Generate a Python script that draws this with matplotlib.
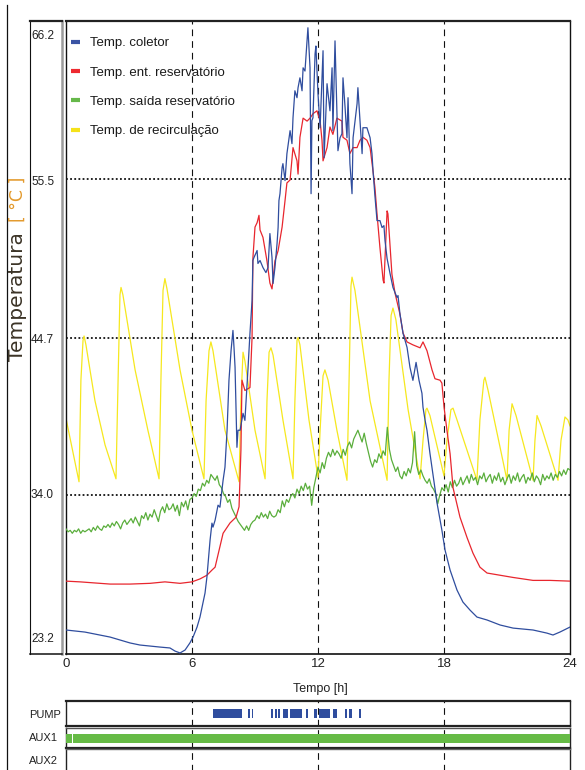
import numpy as np
import matplotlib
matplotlib.use("Agg")
import matplotlib.pyplot as plt
from matplotlib.lines import Line2D
from matplotlib.transforms import offset_copy

plt.rcParams['font.family'] = ['Liberation Sans Narrow', 'Liberation Sans', 'DejaVu Sans']

# ---------------- data ----------------
hour_ticks = [0, 6, 12, 18, 24]
temp_ticks = [23.2, 34.0, 44.7, 55.5, 66.2]
temp_tick_labels = ['23.2', '34.0', '44.7', '55.5', '66.2']
series_names = ['Temp. coletor', 'Temp. ent. reservatório',
                'Temp. saída reservatório', 'Temp. de recirculação']
row_names = ['PUMP', 'AUX1', 'AUX2']

# Temp. coletor (blue)
coletor_h = [0, 0.90, 1.62, 2.10, 2.57, 3.05, 3.52, 4.48, 4.95, 5.19,
             5.43, 5.67, 5.90, 6.05, 6.24, 6.38, 6.62, 6.71, 6.86, 6.95,
             7.00, 7.10, 7.24, 7.33, 7.48, 7.57, 7.67, 7.76, 7.86, 7.95,
             8.00, 8.05, 8.14, 8.19, 8.29, 8.43, 8.52, 8.67, 8.76, 8.86,
             8.90, 8.95, 9.10, 9.14, 9.24, 9.38, 9.52, 9.62, 9.71, 9.81,
             9.86, 9.95, 10.05, 10.10, 10.14, 10.19, 10.29, 10.33, 10.43, 10.52,
             10.67, 10.76, 10.81, 10.90, 11.00, 11.05, 11.14, 11.24, 11.29, 11.38,
             11.52, 11.62, 11.67, 11.71, 11.76, 11.86, 11.90, 12.00, 12.10, 12.24,
             12.29, 12.43, 12.57, 12.67, 12.71, 12.81, 12.90, 12.95, 13.05, 13.14,
             13.19, 13.29, 13.38, 13.43, 13.52, 13.62, 13.67, 13.86, 13.90, 14.00,
             14.10, 14.14, 14.33, 14.48, 14.57, 14.62, 14.71, 14.81, 14.95, 15.05,
             15.14, 15.19, 15.29, 15.43, 15.57, 15.76, 15.81, 15.90, 16.05, 16.24,
             16.38, 16.52, 16.67, 16.81, 16.95, 17.00, 17.10, 17.19, 17.33, 17.67,
             17.90, 18.05, 18.29, 18.62, 18.90, 19.24, 19.57, 20.05, 20.67, 21.29,
             22.24, 22.90, 23.19, 23.52, 24.00]
coletor_t = [24.83, 24.69, 24.49, 24.35, 24.15, 23.95, 23.81, 23.67, 23.61, 23.40,
             23.27, 23.47, 23.95, 24.35, 25.03, 25.71, 27.34, 28.42, 30.93, 32.09,
             31.82, 32.29, 33.31, 33.17, 35.00, 35.89, 38.40, 41.79, 43.82, 45.18,
             44.03, 42.67, 37.24, 38.40, 38.40, 39.55, 39.07, 42.67, 44.98, 47.22,
             49.93, 50.13, 50.61, 49.73, 49.93, 49.45, 49.11, 49.45, 51.76, 50.13,
             48.37, 49.45, 51.08, 52.17, 54.00, 54.47, 56.24, 56.51, 55.36, 57.19,
             58.75, 57.87, 59.63, 61.46, 60.99, 61.67, 62.34, 61.46, 63.02, 62.80,
             65.74, 63.02, 54.47, 59.43, 59.63, 63.97, 64.50, 61.26, 58.95, 64.18,
             56.92, 61.94, 60.10, 63.02, 58.75, 64.85, 60.10, 57.39, 58.27, 58.54,
             62.34, 60.31, 58.27, 60.99, 56.51, 54.47, 58.27, 60.58, 61.67, 59.43,
             57.19, 58.95, 58.95, 58.27, 57.19, 56.03, 54.34, 52.64, 52.64, 52.17,
             52.30, 51.29, 50.06, 49.05, 48.10, 47.42, 47.55, 46.33, 44.98, 44.03,
             42.67, 41.79, 43.01, 41.79, 40.91, 39.96, 39.07, 38.40, 36.84, 33.44,
             31.61, 30.26, 28.90, 27.54, 26.73, 26.18, 25.71, 25.51, 25.17, 24.96,
             24.83, 24.62, 24.49, 24.69, 25.03]

# Temp. ent. reservatório (red)
ent_h = [0, 0.67, 1.62, 2.10, 3.05, 4.00, 4.71, 5.43, 6.00, 6.38,
         6.71, 6.95, 7.10, 7.29, 7.48, 7.81, 8.10, 8.24, 8.33, 8.38,
         8.52, 8.76, 8.86, 8.90, 9.00, 9.10, 9.19, 9.24, 9.38, 9.57,
         9.71, 9.81, 9.95, 10.10, 10.29, 10.43, 10.52, 10.67, 10.81, 11.00,
         11.05, 11.14, 11.29, 11.48, 11.62, 11.76, 11.95, 12.10, 12.19, 12.24,
         12.43, 12.57, 12.71, 12.90, 13.14, 13.19, 13.38, 13.52, 13.67, 13.86,
         14.00, 14.14, 14.33, 14.48, 14.62, 14.71, 14.81, 14.95, 15.10, 15.14,
         15.29, 15.33, 15.52, 15.67, 15.90, 16.05, 16.24, 16.52, 16.86, 17.00,
         17.19, 17.43, 17.57, 17.81, 17.90, 18.00, 18.14, 18.29, 18.43, 18.76,
         19.10, 19.38, 19.71, 20.05, 20.67, 21.29, 22.24, 23.05, 24.00]
ent_t = [28.15, 28.10, 28.00, 27.95, 27.95, 28.00, 28.10, 28.00, 28.10, 28.30,
         28.55, 28.90, 29.10, 30.25, 31.40, 32.10, 32.50, 33.20, 37.05, 41.80,
         41.10, 41.30, 44.70, 50.10, 52.20, 52.50, 53.00, 52.00, 51.50, 49.90,
         48.40, 48.00, 49.90, 50.60, 52.20, 54.00, 55.20, 55.40, 57.60, 56.70,
         55.80, 58.30, 59.60, 59.40, 59.60, 59.90, 60.10, 59.40, 58.10, 56.70,
         57.60, 59.00, 58.50, 59.60, 59.40, 58.30, 58.10, 57.20, 57.60, 57.60,
         58.10, 58.30, 58.10, 57.60, 56.00, 54.90, 53.10, 50.80, 48.60, 48.40,
         53.30, 53.10, 49.00, 47.70, 46.30, 45.00, 44.40, 44.20, 44.00, 44.40,
         43.80, 42.50, 41.90, 41.80, 41.60, 40.00, 38.40, 36.80, 34.50, 32.50,
         31.10, 30.05, 29.10, 28.70, 28.55, 28.40, 28.20, 28.20, 28.15]

# Temp. saída reservatório (green), one reading every 0.1 h from 0 h to 24 h
saida_t = [31.7, 31.5, 31.6, 31.4, 31.6, 31.5, 31.7, 31.4, 31.6, 31.5,
           31.6, 31.7, 31.5, 31.8, 31.6, 31.9, 31.7, 31.6, 31.9, 31.8,
           32.0, 31.8, 32.1, 31.9, 32.2, 32.0, 31.7, 32.1, 32.3, 32.0,
           32.2, 32.4, 32.1, 32.5, 32.2, 31.9, 32.6, 32.4, 32.8, 32.3,
           32.7, 32.5, 33.0, 32.6, 32.2, 32.9, 33.2, 32.8, 33.4, 33.0,
           33.1, 33.4, 32.9, 33.3, 32.6, 33.5, 33.2, 33.6, 33.0, 33.7,
           33.8, 34.1, 33.9, 34.4, 34.3, 34.8, 34.6, 35.0, 34.8, 35.4,
           35.2, 35.0, 35.3, 34.7, 34.5, 34.1, 33.9, 33.5, 33.7, 33.1,
           32.8, 32.5, 32.2, 32.0, 31.8, 31.6, 31.9, 31.6, 32.0, 32.2,
           32.3, 32.6, 32.4, 32.8, 32.5, 32.7, 32.4, 32.9, 32.6, 32.5,
           32.6, 33.0, 32.8, 33.6, 33.2, 33.7, 33.5, 33.9, 34.1, 33.8,
           34.4, 34.1, 34.6, 34.3, 34.8, 34.4, 34.6, 33.3, 34.5, 35.2,
           35.9, 35.5, 36.2, 35.8, 36.5, 36.9, 36.6, 37.1, 36.7, 37.0,
           36.8, 36.5, 37.1, 36.7, 37.3, 37.6, 37.2, 37.8, 38.1, 38.4,
           38.0, 37.6, 38.2, 37.5, 36.9, 36.3, 35.9, 36.4, 36.2, 36.8,
           36.5, 37.0, 36.7, 38.6, 37.1, 36.4, 36.0, 35.6, 35.9, 35.3,
           35.1, 35.6, 35.3, 35.8, 35.5, 36.2, 38.3, 36.0, 35.4, 35.7,
           35.3, 35.0, 34.8, 35.1, 34.6, 34.4, 34.1, 33.4, 34.0, 34.5,
           34.3, 34.7, 34.2, 34.9, 34.5, 35.0, 34.6, 34.8, 35.2, 34.7,
           35.0, 35.3, 34.8, 35.4, 35.0, 35.2, 34.7, 35.3, 35.1, 35.5,
           34.9, 35.2, 35.4, 34.8, 35.3, 35.0, 35.5, 34.9, 35.2, 34.7,
           35.1, 35.4, 34.8, 35.3, 35.0, 35.5, 34.9, 35.2, 35.4, 34.8,
           35.2, 35.0, 35.5, 34.9, 35.3, 35.1, 34.7, 35.4, 35.0, 35.3,
           35.1, 35.5, 35.0, 35.4, 35.2, 35.6, 35.3, 35.7, 35.4, 35.8,
           35.7]
saida_h = np.linspace(0, 24, len(saida_t))

# Temp. de recirculação (yellow)
recirc_h = [0, 0.62, 0.71, 0.81, 0.86, 0.95, 1.38, 1.86,
            2.38, 2.48, 2.57, 2.62, 2.71, 3.29, 3.90,
            4.43, 4.52, 4.62, 4.71, 4.81, 5.43, 6.00,
            6.57, 6.67, 6.81, 6.90, 7.00, 7.57,
            8.24, 8.33, 8.43, 8.52, 9.00,
            9.48, 9.57, 9.67, 9.76, 9.86, 10.33,
            10.81, 10.90, 11.00, 11.05, 11.14, 11.57,
            12.00, 12.10, 12.24, 12.33, 12.48, 12.90,
            13.38, 13.48, 13.57, 13.62, 13.76, 14.48,
            15.29, 15.38, 15.48, 15.57, 15.71, 16.29,
            16.86, 17.00, 17.14, 17.19, 17.33,
            18.00, 18.14, 18.33, 18.43, 18.62,
            19.57, 19.71, 19.90, 19.95, 20.10,
            21.00, 21.10, 21.24, 21.43,
            22.24, 22.33, 22.43, 22.62,
            23.43, 23.57, 23.76, 23.90, 24.00]
recirc_t = [39.2, 34.9, 41.8, 44.5, 44.8, 44.2, 40.4, 37.4,
            35.1, 41.8, 47.6, 48.1, 47.6, 42.5, 38.4,
            35.1, 41.8, 47.9, 48.7, 48.0, 42.5, 38.4,
            35.1, 40.4, 43.8, 44.4, 43.8, 38.4,
            34.9, 40.4, 43.7, 43.1, 38.4,
            35.1, 40.4, 43.7, 44.0, 43.5, 39.1,
            35.1, 40.4, 44.5, 44.7, 44.2, 39.1,
            35.2, 38.4, 42.1, 42.5, 41.8, 38.4,
            35.0, 41.8, 48.2, 48.8, 47.9, 40.4,
            35.0, 41.8, 46.2, 46.7, 45.9, 39.8,
            35.1, 37.7, 39.8, 39.9, 39.4,
            35.3, 37.7, 39.8, 39.9, 39.1,
            35.0, 39.1, 41.8, 42.0, 41.1,
            35.0, 38.4, 40.2, 39.4,
            35.0, 37.7, 39.4, 38.7,
            35.0, 37.7, 39.3, 39.1, 38.7]

# PUMP on intervals (h)
pump_start = [7.01, 8.68, 8.84, 9.76, 9.95, 10.11, 10.35, 10.67, 11.41, 11.81,
              12.06, 12.70, 13.29, 13.49, 13.95]
pump_end = [8.37, 8.76, 8.92, 9.84, 10.03, 10.19, 10.56, 11.22, 11.54, 11.97,
            12.57, 12.89, 13.37, 13.60, 14.03]
# AUX1 on intervals (h)
aux1_start = [0.0, 0.35]
aux1_end = [0.27, 24.0]

# ---------------- styling ----------------
c_blue, c_red, c_green, c_yellow = '#2f4d9e', '#e8262e', '#5aae3c', '#f6e81e'
leg_colors = ['#3a54a4', '#ee2a30', '#66b84a', '#f5e21a']

W, H = 585, 770
fig = plt.figure(figsize=(W / 100, H / 100), dpi=100)


def fx(x):
    return x / W


def fy(y):
    return 1 - y / H


def box(x0, y0, x1, y1):
    return [fx(x0), fy(y1), (x1 - x0) / W, (y1 - y0) / H]


# outer left rule
fig.add_artist(Line2D([fx(7), fx(7)], [fy(5), fy(770)], transform=fig.transFigure,
                      color='#111', lw=0.9))

# tick label panel
pan = fig.add_axes(box(30, 21, 62, 654))
pan.set_xticks([])
pan.set_yticks([])
for s, (c, lw) in {'left': ('#111', 0.8), 'top': ('#222', 1.6),
                   'bottom': ('#111', 1.1), 'right': ('#9a9a9a', 1.8)}.items():
    pan.spines[s].set_color(c)
    pan.spines[s].set_linewidth(lw)

# main plot
ax = fig.add_axes(box(66, 21, 570, 654))
ax.set_xlim(0, 24)
ax.set_ylim(temp_ticks[0], temp_ticks[-1])

for v in temp_ticks[1:-1]:
    ax.axhline(v, color='#111', lw=1.3, ls=(0, (1.0, 1.3)), zorder=1)
for h in hour_ticks[1:-1]:
    ax.axvline(h, color='#111', lw=0.8, ls=(0, (6, 4.5)), zorder=1)

ax.plot(recirc_h, recirc_t, color=c_yellow, lw=0.9, zorder=2)
ax.plot(saida_h, saida_t, color=c_green, lw=0.9, zorder=3)
ax.plot(ent_h, ent_t, color=c_red, lw=0.9, zorder=4)
ax.plot(coletor_h, coletor_t, color=c_blue, lw=0.9, zorder=5)

for s, (c, lw) in {'left': ('#111', 1.0), 'top': ('#222', 1.6),
                   'bottom': ('#111', 1.2), 'right': ('#111', 1.0)}.items():
    ax.spines[s].set_color(c)
    ax.spines[s].set_linewidth(lw)

ax.set_xticks(hour_ticks, [str(h) for h in hour_ticks])
ax.tick_params(axis='x', length=0, pad=3, labelsize=9.5, labelcolor='#222')
ax.set_yticks([])

ytrans = ax.get_yaxis_transform()
label_offsets = [10.5, 0, -1.5, -2.5, -11]
for v, s, off in zip(temp_ticks, temp_tick_labels, label_offsets):
    ax.text((31 - 66) / 504, v, s,
            transform=offset_copy(ytrans, fig=fig, x=0, y=off, units='points'),
            ha='left', va='center', fontsize=8.5, color='#222', clip_on=False)

handles = [Line2D([], [], color=c, lw=3, solid_capstyle='butt') for c in leg_colors]
leg = ax.legend(handles, series_names, loc='upper left',
                bbox_to_anchor=(fx(71), fy(37)), bbox_transform=fig.transFigure,
                frameon=False, fontsize=9.5, handlelength=0.7, handletextpad=0.75,
                labelspacing=1.3, borderpad=0, borderaxespad=0)
for t in leg.get_texts():
    t.set_color('#1a1a1a')

fig.text(fx(320), fy(689), 'Tempo [h]', ha='center', va='center', fontsize=9,
         color='#222')
fig.text(fx(18), fy(297), 'Temperatura', rotation=90, ha='center', va='center',
         fontsize=14.5, family=['DejaVu Sans'], color='#3b3326')
fig.text(fx(18), fy(199), '[ °C ]', rotation=90, ha='center', va='center',
         fontsize=12.5, family=['DejaVu Sans'], color='#e39a2d')

# bottom digital rows
rows = [(701, 726), (728, 748), (749.5, 776)]
row_axes = []
for (y0, y1) in rows:
    a = fig.add_axes(box(66, y0, 570, y1))
    a.set_xlim(0, 24)
    a.set_ylim(0, 1)
    a.set_xticks([])
    a.set_yticks([])
    for h in hour_ticks[1:-1]:
        a.axvline(h, color='#111', lw=0.8, ls=(0, (6, 4.5)), zorder=1)
    for s in ['left', 'right']:
        a.spines[s].set_color('#222')
        a.spines[s].set_linewidth(1.0)
    row_axes.append(a)

row_axes[0].spines['top'].set_color('#222')
row_axes[0].spines['top'].set_linewidth(1.6)
row_axes[0].spines['bottom'].set_color('#222')
row_axes[0].spines['bottom'].set_linewidth(1.6)
row_axes[1].spines['top'].set_color('#555')
row_axes[1].spines['top'].set_linewidth(1.0)
row_axes[1].spines['bottom'].set_color('#222')
row_axes[1].spines['bottom'].set_linewidth(1.6)
row_axes[2].spines['top'].set_color('#666')
row_axes[2].spines['top'].set_linewidth(1.0)

row_axes[0].broken_barh([(s, e - s) for s, e in zip(pump_start, pump_end)],
                        (0.32, 0.36), facecolor=c_blue, edgecolor='none', zorder=3)
row_axes[1].broken_barh([(s, e - s) for s, e in zip(aux1_start, aux1_end)],
                        (0.25, 0.45), facecolor='#66bb46', edgecolor='none', zorder=3)

for name, (y0, y1) in zip(row_names, [(701, 728), (728, 748), (753, 770)]):
    fig.text(fx(29), fy((y0 + y1) / 2), name, ha='left', va='center',
             fontsize=8, color='#222')

fig.savefig('out.png', dpi=100)
